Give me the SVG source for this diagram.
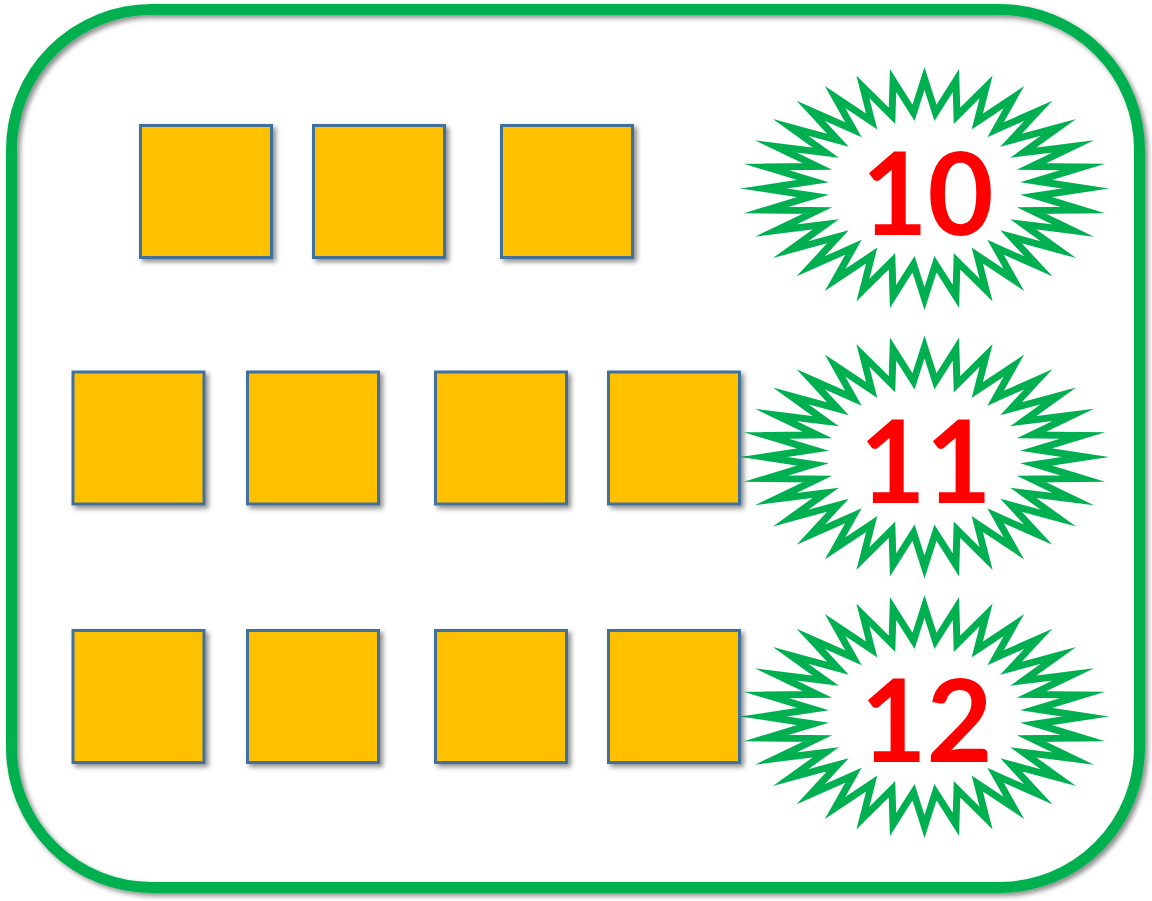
<svg xmlns="http://www.w3.org/2000/svg" xmlns:xlink="http://www.w3.org/1999/xlink" width="1152" height="901" viewBox="0 0 1152 901">
<style>
.sq{fill:#FFC000;stroke:#41719C;stroke-width:3;filter:url(#sh)}
.star{fill:#FFFFFF;stroke:#00B050;stroke-width:7;stroke-linejoin:miter;stroke-miterlimit:20}
.num{font-family:Lato,"Liberation Sans",sans-serif;font-weight:700;font-size:114px;fill:#FF0000;text-anchor:middle}
</style>
<defs>
<filter id="sh" x="-20%" y="-20%" width="150%" height="150%">
<feDropShadow dx="3" dy="3" stdDeviation="2.5" flood-color="#000" flood-opacity="0.45"/>
</filter>
<path id="starshape" d="M0,-110 L10.98,-75.63 L31.41,-107.89 L32.51,-72.73 L61.61,-101.63 L52.80,-67.03 L89.45,-91.46 L71.05,-58.75 L113.84,-77.78 L86.58,-48.21 L133.87,-61.11 L98.78,-35.83 L148.74,-42.09 L107.18,-22.06 L157.91,-21.46 L111.46,-7.45 L161,0 L111.46,7.45 L157.91,21.46 L107.18,22.06 L148.74,42.09 L98.78,35.83 L133.87,61.11 L86.58,48.21 L113.84,77.78 L71.05,58.75 L89.45,91.46 L52.80,67.03 L61.61,101.63 L32.51,72.73 L31.41,107.89 L10.98,75.63 L0,110 L-10.98,75.63 L-31.41,107.89 L-32.51,72.73 L-61.61,101.63 L-52.80,67.03 L-89.45,91.46 L-71.05,58.75 L-113.84,77.78 L-86.58,48.21 L-133.87,61.11 L-98.78,35.83 L-148.74,42.09 L-107.18,22.06 L-157.91,21.46 L-111.46,7.45 L-161,0 L-111.46,-7.45 L-157.91,-21.46 L-107.18,-22.06 L-148.74,-42.09 L-98.78,-35.83 L-133.87,-61.11 L-86.58,-48.21 L-113.84,-77.78 L-71.05,-58.75 L-89.45,-91.46 L-52.80,-67.03 L-61.61,-101.63 L-32.51,-72.73 L-31.41,-107.89 L-10.98,-75.63 Z"/>
</defs>
<rect width="1152" height="901" fill="#FFFFFF"/>
<g id="frame">
<rect x="11.5" y="9.5" width="1128" height="878" rx="140" ry="140" fill="none" stroke="#00B050" stroke-width="11" filter="url(#sh)"/>
</g>
<g id="star10">
<use xlink:href="#starshape" href="#starshape" class="star" transform="translate(924.5,188.5)"/>
<text class="num" x="927.5" y="235">10</text>
</g>
<g id="star11">
<use xlink:href="#starshape" href="#starshape" class="star" transform="translate(924.5,457)"/>
<text class="num" x="925.5" y="503">11</text>
</g>
<g id="star12">
<use xlink:href="#starshape" href="#starshape" class="star" transform="translate(924.5,716.5)"/>
<text class="num" x="926.5" y="762">12</text>
</g>
<g id="row1">
<rect id="sq1" class="sq" x="140.5" y="125.5" width="131" height="132"/>
<rect id="sq2" class="sq" x="313.5" y="125.5" width="131" height="132"/>
<rect id="sq3" class="sq" x="501.5" y="125.5" width="131" height="132"/>
</g>
<g id="row2">
<rect id="sq4" class="sq" x="73" y="372" width="131" height="132"/>
<rect id="sq5" class="sq" x="247.5" y="372" width="131" height="132"/>
<rect id="sq6" class="sq" x="435.5" y="372" width="131" height="132"/>
<rect id="sq7" class="sq" x="608.5" y="372" width="131" height="132"/>
</g>
<g id="row3">
<rect id="sq8" class="sq" x="73" y="630.5" width="131" height="132"/>
<rect id="sq9" class="sq" x="247.5" y="630.5" width="131" height="132"/>
<rect id="sq10" class="sq" x="435.5" y="630.5" width="131" height="132"/>
<rect id="sq11" class="sq" x="608.5" y="630.5" width="131" height="132"/>
</g>
<g id="connectors"></g>
</svg>
